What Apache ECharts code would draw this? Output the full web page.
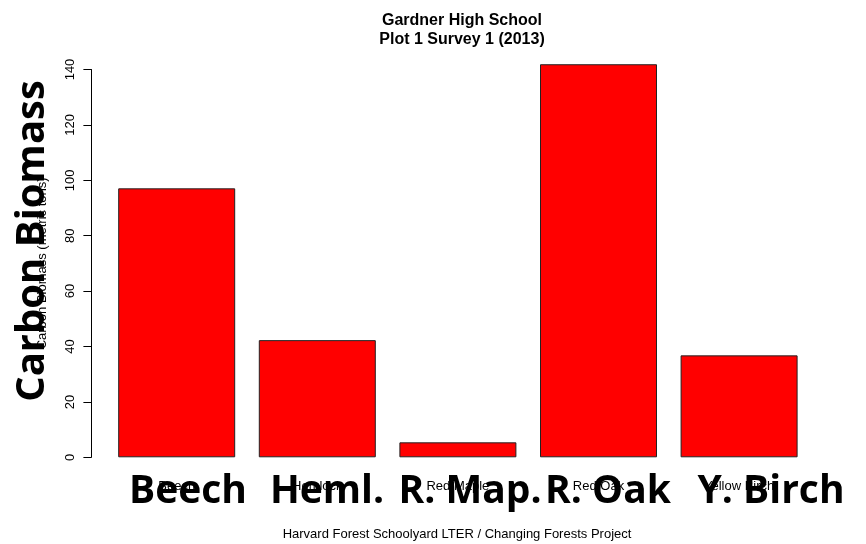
<!DOCTYPE html>
<html>
<head>
<meta charset="utf-8">
<script src="https://cdn.jsdelivr.net/npm/echarts@6/dist/echarts.min.js"></script>
<style>
html,body{margin:0;padding:0;background:#fff;}
#chart{width:866px;height:544px;}
</style>
</head>
<body>
<div id="chart"></div>
<script>
const categories = ['Beech', 'Hemlock', 'Red Maple', 'Red Oak', 'Yellow Birch'];
const carbonValues = [97.1, 42.3, 5.4, 141.9, 36.8];
const yTicks = [0, 20, 40, 60, 80, 100, 120, 140];
const overlayLabels = ['Beech', 'Heml.', 'R. Map.', 'R. Oak', 'Y. Birch'];
const overlayLabelX = [188, 327, 470, 608, 771];
const titleLines = ['Gardner High School', 'Plot 1 Survey 1 (2013)'];
const yAxisTitle = 'Carbon Biomass (metric tons)';
const overlayYTitle = 'Carbon Biomass';
const caption = 'Harvard Forest Schoolyard LTER / Changing Forests Project';

const chart = echarts.init(document.getElementById('chart'), null, {renderer: 'canvas'});

const graphics = overlayLabels.map((t, i) => ({
  type: 'text', z: 100, x: overlayLabelX[i], y: 492,
  style: {text: t, fill: '#000', font: 'bold 39px "Open Sans"', align: 'center', verticalAlign: 'middle'}
}));
graphics.push({
  type: 'text', z: 100, x: 33, y: 241, rotation: Math.PI / 2,
  style: {text: overlayYTitle, fill: '#000', font: 'bold 40px "Open Sans"', align: 'center', verticalAlign: 'middle'}
});
graphics.push({
  type: 'text', z: 10, x: 457, y: 534,
  style: {text: caption, fill: '#000', font: '13px "Liberation Sans"', align: 'center', verticalAlign: 'middle'}
});

chart.setOption({
  backgroundColor: '#fff',
  animation: false,
  title: {
    text: titleLines.join('\n'),
    left: 457, top: 6, textAlign: 'center',
    textStyle: {fontFamily: 'Liberation Sans', fontWeight: 'bold', fontSize: 16, lineHeight: 19, color: '#000'}
  },
  grid: {left: 106.4, right: 56.6, top: 69.5, bottom: 86.7},
  xAxis: {
    type: 'category',
    data: categories,
    axisLine: {show: false},
    axisTick: {show: false},
    axisLabel: {margin: 23, fontFamily: 'Liberation Sans', fontSize: 13, color: '#000', interval: 0}
  },
  yAxis: {
    type: 'value',
    min: yTicks[0], max: yTicks[yTicks.length - 1], interval: 20,
    offset: 15,
    name: yAxisTitle,
    nameLocation: 'middle',
    nameGap: 42,
    nameTextStyle: {fontFamily: 'Liberation Sans', fontSize: 13, color: '#000'},
    axisLine: {show: true, lineStyle: {color: '#000', width: 1}},
    axisTick: {show: true, length: 8, lineStyle: {color: '#000', width: 1}},
    axisLabel: {rotate: 90, margin: 14, fontFamily: 'Liberation Sans', fontSize: 13, color: '#000'},
    splitLine: {show: false}
  },
  series: [{
    type: 'bar',
    data: carbonValues,
    barWidth: 117,
    clip: false,
    itemStyle: {color: '#ff0000', borderColor: '#222', borderWidth: 1}
  }],
  graphic: graphics
});
</script>
</body>
</html>
